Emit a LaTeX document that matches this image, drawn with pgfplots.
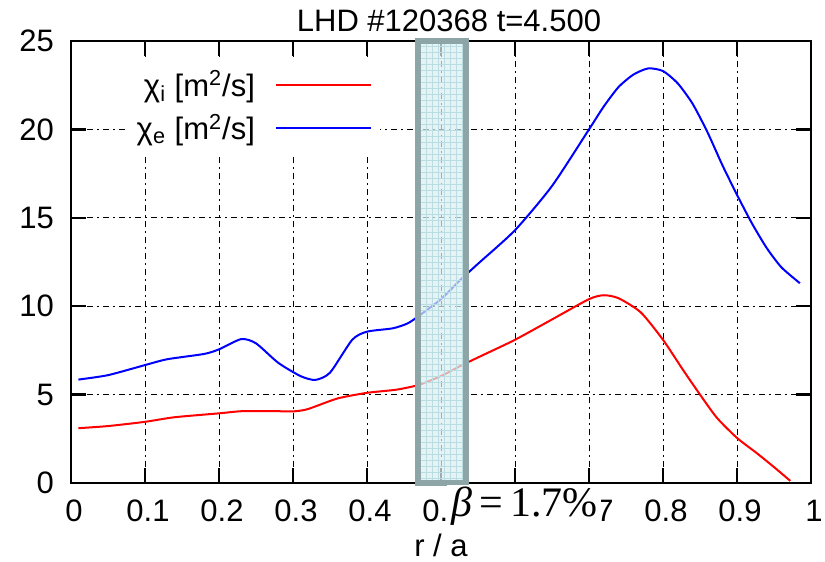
\documentclass[border=0pt]{standalone}
\usepackage{fontspec}
\setmainfont{Liberation Sans}
\newfontfamily\serif{Liberation Serif}
\usepackage{pgfplots}
\pgfplotsset{compat=1.18}
\usetikzlibrary{patterns}
\definecolor{boxfill}{HTML}{DCEFF1}
\definecolor{boxedge}{HTML}{8DA5A6}
\definecolor{boxgrid}{HTML}{B9DDE2}
\begin{document}
\begin{tikzpicture}
\useasboundingbox (0,0) rectangle (412.5pt,281pt);
\begin{axis}[
  at={(35.5pt,39.5pt)}, anchor=south west,
  scale only axis, width=370pt, height=221pt,
  xmin=0, xmax=1, ymin=0, ymax=25,
  xtick={0,0.1,0.2,0.3,0.4,0.5,0.6,0.7,0.8,0.9,1},
  xticklabels={0,0.1,0.2,0.3,0.4,0.5,0.6,0.7,0.8,0.9,1},
  ytick={0,5,10,15,20,25},
  /pgf/number format/assume math mode=true,
  tick label style={font=\fontsize{15.5}{18}\selectfont},
  xticklabel style={yshift=-5pt, xshift=1.5pt},
  yticklabel style={xshift=-5pt},
  tick align=inside, major tick length=7.5pt,
  every tick/.style={black, line width=1.2pt},
  axis line style={line width=1.2pt},
  grid=major,
  grid style={black, line width=0.5pt, dash pattern=on 3pt off 2pt on 1pt off 2pt},
  title={LHD \#120368 t=4.500},
  title style={font=\fontsize{15.5}{18}\selectfont, yshift=-5pt, xshift=4pt},
  xlabel={r / a},
  xlabel style={font=\fontsize{15.5}{18}\selectfont, yshift=1pt},
  legend style={at={(0.418,0.957)}, anchor=north east, draw=none, fill=white,
    font=\fontsize{15.5}{18}\selectfont, inner xsep=4pt, inner ysep=3pt,
    row sep=3.5pt},
  legend cell align=right,
  legend plot pos=right,
  legend image code/.code={\draw[#1] (0pt,0pt) -- (47.5pt,0pt);},
  /tikz/every odd column/.append style={column sep=8pt},
  clip=false,
]
\addplot[red, line width=1pt, smooth, tension=0.4] coordinates {
(0.01,3.10) (0.05,3.22) (0.10,3.46) (0.14,3.72) (0.20,3.94) (0.23,4.06)
(0.27,4.07) (0.30,4.05) (0.32,4.18) (0.36,4.78) (0.40,5.10) (0.44,5.28)
(0.47,5.55) (0.50,6.05) (0.53,6.70) (0.56,7.30) (0.60,8.10) (0.65,9.25)
(0.70,10.40) (0.72,10.62) (0.74,10.45) (0.77,9.65) (0.80,8.10) (0.827,6.40)
(0.85,5.00) (0.873,3.68) (0.90,2.55) (0.927,1.68) (0.95,0.90) (0.972,0.12)};
\addlegendentry{χ\textsubscript{i} [m\textsuperscript{2}/s]}
\addplot[blue, line width=1pt, smooth, tension=0.4] coordinates {
(0.01,5.85) (0.05,6.10) (0.10,6.67) (0.13,7.00) (0.18,7.30) (0.20,7.56)
(0.23,8.14) (0.25,7.90) (0.28,6.80) (0.31,6.05) (0.33,5.83) (0.35,6.24)
(0.38,8.10) (0.40,8.56) (0.435,8.75) (0.455,9.03) (0.47,9.45) (0.50,10.40)
(0.526,11.48) (0.55,12.40) (0.60,14.30) (0.65,16.80) (0.70,20.00) (0.72,21.3)
(0.74,22.4) (0.76,23.1) (0.78,23.45) (0.80,23.3) (0.82,22.6) (0.84,21.45)
(0.86,19.85) (0.88,18.0) (0.90,16.3) (0.92,14.7) (0.94,13.3) (0.96,12.2)
(0.985,11.3)};
\addlegendentry{χ\textsubscript{e} [m\textsuperscript{2}/s]}
\coordinate (b1) at (axis cs:0.469,0);
\coordinate (b2) at (axis cs:0.534,25);
\coordinate (w1) at (axis cs:0.508,-0.1);
\coordinate (w2) at (axis cs:0.716,-2.7);
\coordinate (bt) at (axis cs:0.613,-1.3);
\end{axis}
\fill[boxfill, fill opacity=0.72] (b1) rectangle (b2);
\fill[pattern=grid, pattern color=boxgrid, fill opacity=0.6] (b1) rectangle (b2);
\draw[boxedge, line width=3pt] (b1) rectangle (b2);
\fill[white] (w1) rectangle (w2);
\node[font=\serif\fontsize{21}{24}\selectfont, inner sep=0pt] at (bt) {\itshape β\upshape\,=\,1.7\%};
\end{tikzpicture}
\end{document}
